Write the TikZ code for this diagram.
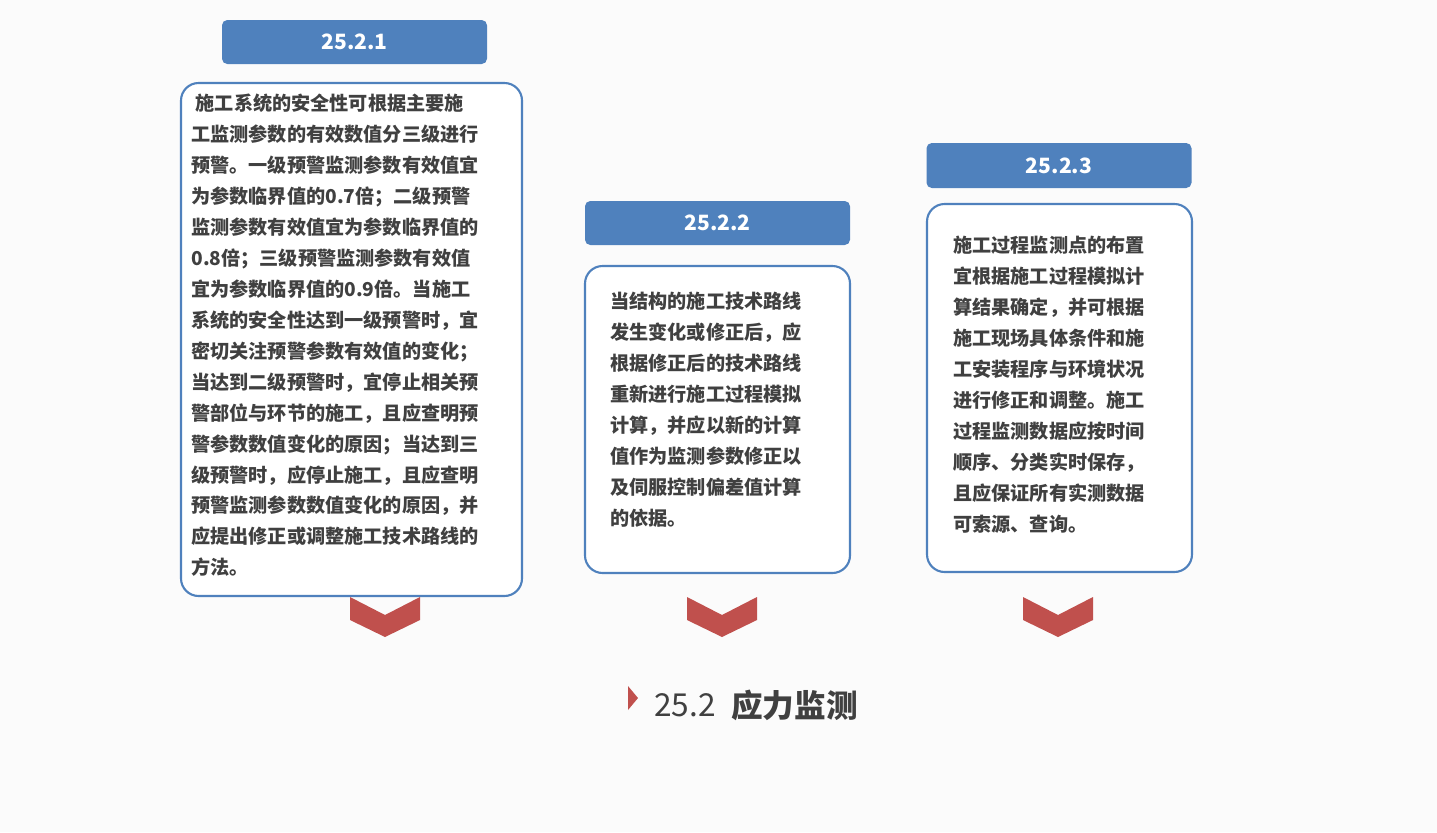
\documentclass[tikz,border=0pt]{standalone}
\usepackage{fontspec}
\setmainfont{Noto Sans CJK SC}
\usetikzlibrary{positioning}
\definecolor{headBlue}{HTML}{4F81BD}
\definecolor{chevRed}{HTML}{C0504D}
\definecolor{textGray}{HTML}{404040}
\tikzstyle{headBox}=[fill=headBlue,rounded corners=3pt,text=white,font=\bfseries\fontsize{12}{14}\selectfont,inner sep=0pt]
\tikzstyle{textBox}=[draw=headBlue,line width=1.2pt,fill=white,rounded corners=10pt]
\tikzstyle{boxText}=[text=textGray,font=\bfseries\fontsize{10.9}{17.6}\selectfont,align=left,anchor=north west,inner sep=0pt]
\tikzstyle{chevron}=[fill=chevRed]
\newcommand{\chev}[1]{%
  \fill[chevron] (#1-35,597) -- (#1,615) -- (#1+35,597) -- (#1+35,620) -- (#1,637) -- (#1-35,620) -- cycle;}
\begin{document}
\begin{tikzpicture}[x=0.02cm,y=-0.02cm]
\useasboundingbox (0,0) rectangle (1437,832);
\fill[gray!3] (0,0) rectangle (1437,832);
% headers
\node[headBox,minimum width=265*0.02cm,minimum height=44*0.02cm] (headOne) at (354.5,42) {25.2.1};
\node[headBox,minimum width=265*0.02cm,minimum height=44*0.02cm] (headTwo) at (717.5,223) {25.2.2};
\node[headBox,minimum width=265*0.02cm,minimum height=45*0.02cm] (headThree) at (1059,165.5) {25.2.3};
% boxes
\draw[textBox] (181,83) rectangle (522,596);
\draw[textBox] (585,266) rectangle (850,573);
\draw[textBox] (927,204) rectangle (1192,572);
\node[boxText] (textOne) at (191,94) {\ 施工系统的安全性可根据主要施\\工监测参数的有效数值分三级进行\\预警。一级预警监测参数有效值宜\\为参数临界值的0.7倍；二级预警\\监测参数有效值宜为参数临界值的\\0.8倍；三级预警监测参数有效值\\宜为参数临界值的0.9倍。当施工\\系统的安全性达到一级预警时，宜\\密切关注预警参数有效值的变化；\\当达到二级预警时，宜停止相关预\\警部位与环节的施工，且应查明预\\警参数数值变化的原因；当达到三\\级预警时，应停止施工，且应查明\\预警监测参数数值变化的原因，并\\应提出修正或调整施工技术路线的\\方法。};
\node[boxText] (textTwo) at (610,292) {当结构的施工技术路线\\发生变化或修正后，应\\根据修正后的技术路线\\重新进行施工过程模拟\\计算，并应以新的计算\\值作为监测参数修正以\\及伺服控制偏差值计算\\的依据。};
\node[boxText] (textThree) at (953,236) {施工过程监测点的布置\\宜根据施工过程模拟计\\算结果确定，并可根据\\施工现场具体条件和施\\工安装程序与环境状况\\进行修正和调整。施工\\过程监测数据应按时间\\顺序、分类实时保存，\\且应保证所有实测数据\\可索源、查询。};
% chevrons
\chev{385}
\chev{722}
\chev{1058}
% title
\fill[chevRed] (628,686) -- (638,698) -- (628,710) -- cycle;
\node[anchor=west,text=textGray,font=\fontsize{18}{22}\selectfont,inner sep=0pt] (titleNum) at (654,705) {25.2};
\node[anchor=west,text=textGray,font=\bfseries\fontsize{18}{22}\selectfont,inner sep=0pt] (titleText) at (731,705) {应力监测};
\end{tikzpicture}
\end{document}
